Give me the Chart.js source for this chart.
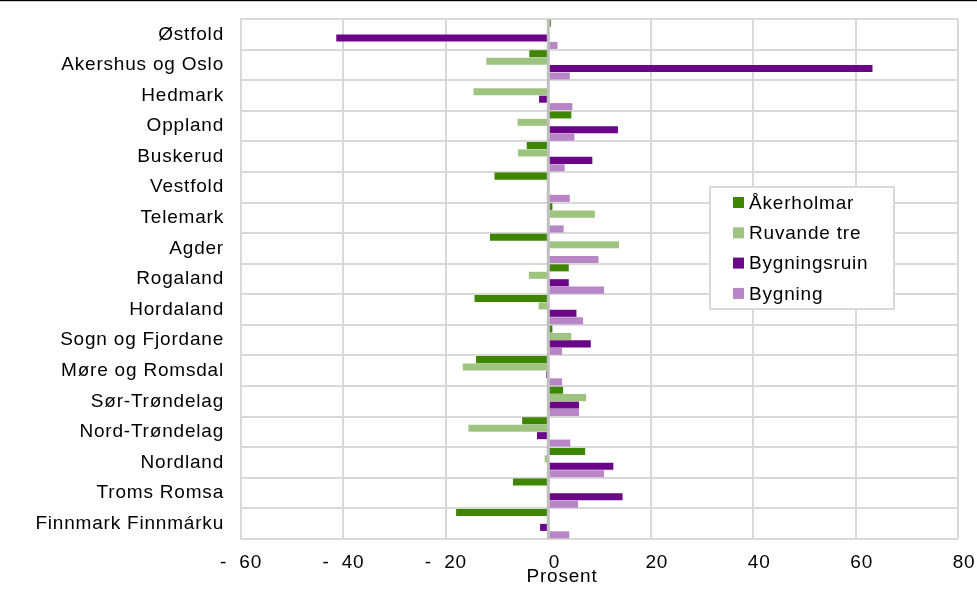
<!DOCTYPE html>
<html><head><meta charset="utf-8">
<script src="https://cdn.jsdelivr.net/npm/chart.js@4.4.1/dist/chart.umd.min.js"></script>
<style>html,body{margin:0;padding:0;background:#fff}#wrap{width:977px;height:592px;position:relative}</style>
</head><body><div id="wrap"><canvas id="c"></canvas></div>
<script>
const categories = ["Østfold","Akershus og Oslo","Hedmark","Oppland","Buskerud","Vestfold","Telemark","Agder","Rogaland","Hordaland","Sogn og Fjordane","Møre og Romsdal","Sør-Trøndelag","Nord-Trøndelag","Nordland","Troms Romsa","Finnmark Finnmárku"];
const seriesNames = ["Åkerholmar","Ruvande tre","Bygningsruin","Bygning"];
const akerholmar   = [0.5, -3.7, 0, 4.5, -4.2, -10.5, 0.8, -11.4, 4.0, -14.4, 0.8, -14.1, 2.9, -5.1, 7.2, -6.9, -18.0];
const ruvandeTre   = [0, -12.1, -14.6, -6.0, -5.9, 0, 9.1, 13.8, -3.8, -1.9, 4.5, -16.7, 7.4, -15.6, -0.7, 0, 0];
const bygningsruin = [-41.4, 63.3, -1.8, 13.6, 8.6, 0, 0, 0, 4.0, 5.5, 8.3, -0.4, 6.0, -2.2, 12.7, 14.5, -1.6];
const bygning      = [1.8, 4.2, 4.7, 5.1, 3.2, 4.2, 3.0, 9.8, 10.9, 6.8, 2.7, 2.7, 6.0, 4.3, 10.9, 5.8, 4.1];
const xTickValues = [-60, -40, -20, 0, 20, 40, 60, 80];
const xTickLabels = ["-  60", "-  40", "-  20", "  0", "  20", "  40", "  60", "  80"];
const axisTitle = "Prosent";
const colors = ["#3f8600", "#9fc480", "#6a0687", "#b886c6"];

const FONT = "'Liberation Sans', Arial, Helvetica, sans-serif";
const FS = 19;

const seriesValues = [akerholmar, ruvandeTre, bygningsruin, bygning];

const deco = {
  id: 'deco',
  beforeDraw(chart) { chart.ctx.letterSpacing = '0.8px'; },
  afterDatasetsDraw(chart) {
    const ctx = chart.ctx, x = chart.scales.x, a = chart.chartArea;
    const px = x.getPixelForValue(0);
    ctx.save();
    ctx.strokeStyle = '#bfbfbf'; ctx.lineWidth = 3;
    ctx.beginPath(); ctx.moveTo(px, a.top); ctx.lineTo(px, a.bottom); ctx.stroke();
    ctx.restore();
  },
  afterDraw(chart) {
    const ctx = chart.ctx;
    ctx.save();
    ctx.fillStyle = '#000'; ctx.fillRect(0, 0, chart.width, 1.2);
    ctx.font = FS + 'px ' + FONT; ctx.fillStyle = '#000';
    ctx.textAlign = 'center'; ctx.textBaseline = 'middle';
    ctx.fillText(axisTitle, 562, 577);
    const bx = 710, by = 187, bw = 184, bh = 122;
    ctx.fillStyle = '#fff'; ctx.fillRect(bx, by, bw, bh);
    ctx.strokeStyle = '#d9d9d9'; ctx.lineWidth = 2; ctx.strokeRect(bx, by, bw, bh);
    ctx.textAlign = 'left';
    chart.data.datasets.forEach((ds, i) => {
      const cy = 202.5 + i * 30.3;
      ctx.fillStyle = ds.backgroundColor;
      ctx.fillRect(733, cy - 5.5, 11, 11);
      ctx.fillStyle = '#000';
      ctx.fillText(ds.label, 749, cy + 1);
    });
    ctx.restore();
  }
};

new Chart(document.getElementById('c'), {
  type: 'bar',
  data: {
    labels: categories,
    datasets: seriesNames.map((n, i) => ({
      label: n, data: seriesValues[i], backgroundColor: colors[i], borderWidth: 0,
      categoryPercentage: 0.97, barPercentage: 0.95
    }))
  },
  options: {
    indexAxis: 'y',
    responsive: true, maintainAspectRatio: false, animation: false,
    layout: { padding: { top: 19, right: 19, left: 0, bottom: 0 } },
    plugins: { legend: { display: false }, tooltip: { enabled: false } },
    scales: {
      x: {
        type: 'linear', min: -60, max: 80,
        afterBuildTicks: s => { s.ticks = xTickValues.map(v => ({ value: v })); },
        afterFit: s => { s.height = 53; s.paddingLeft = 0; s.paddingRight = 0; },
        ticks: {
          padding: 12, color: '#000', font: { family: FONT, size: FS },
          callback: (v) => { const k = xTickValues.indexOf(v); return k >= 0 ? xTickLabels[k] : ''; }
        },
        grid: { color: '#d9d9d9', lineWidth: 2, drawTicks: false },
        border: { display: false }
      },
      y: {
        afterFit: s => { s.width = 241; s.paddingTop = 0; s.paddingBottom = 0; },
        ticks: { padding: 17, color: '#000', font: { family: FONT, size: FS }, autoSkip: false },
        grid: { color: '#d9d9d9', lineWidth: 2, drawTicks: false, offset: true },
        border: { display: true, color: '#d9d9d9', width: 2 }
      }
    }
  },
  plugins: [deco]
});
</script></body></html>
